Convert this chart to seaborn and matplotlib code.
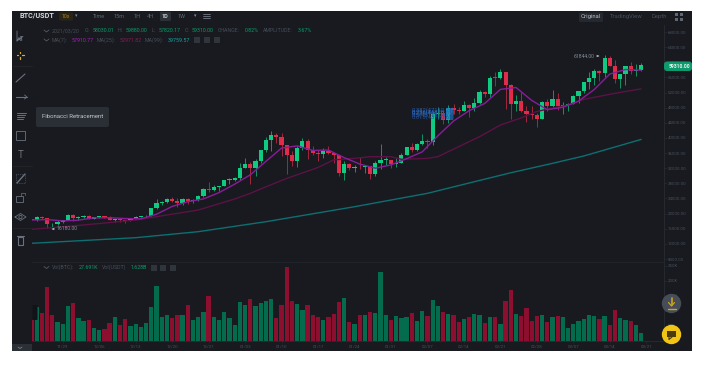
import numpy as np
import pandas as pd
import matplotlib
matplotlib.use('Agg')
import matplotlib.pyplot as plt
from matplotlib.patches import Circle, FancyBboxPatch, Rectangle
import seaborn as sns

sns.set_style("dark")
plt.rcParams['font.family'] = ['Roboto', 'DejaVu Sans']

# --- DATA (daily candles 2020/11/23 .. 2021/03/20) ---
closes = [18414, 19160, 18720, 17150, 17150, 17720, 18190, 19625, 18800, 19220,
          19445, 18700, 19150, 19360, 19170, 18320, 18550, 18250, 18030, 18800,
          19170, 19270, 19440, 21350, 22800, 23100, 23820, 23450, 22730, 23820,
          23250, 23720, 24690, 26490, 26280, 27040, 27360, 28890, 28990, 29410,
          32180, 33000, 31980, 33950, 36770, 39430, 40670, 40240, 38240, 35540,
          33910, 37300, 39140, 36770, 36010, 35820, 36630, 35890, 35470, 30830,
          33000, 32080, 32260, 32250, 32480, 30350, 33400, 34260, 34260, 33090,
          33500, 35500, 37660, 36930, 38290, 39260, 38870, 46450, 46490, 44830,
          47970, 47400, 47190, 48580, 47910, 49130, 52120, 51550, 55900, 55840,
          57410, 54090, 48890, 49670, 47050, 46280, 46110, 45130, 49590, 48430,
          50350, 48370, 48750, 48880, 50970, 52380, 54880, 55850, 57770, 57220,
          61180, 59000, 55640, 56900, 58910, 57660, 58030, 59310]
opens = [18420] + closes[:-1]
highs = [18760, 19420, 19480, 18900, 17460, 18180, 18350, 19860, 19920, 19300,
         19570, 19500, 19180, 19420, 19420, 19290, 18640, 18560, 18290, 18950,
         19410, 19350, 19570, 21560, 23800, 23290, 24170, 24300, 24100, 24000,
         24100, 23800, 24790, 26870, 28420, 27500, 27400, 28990, 29300, 29600,
         33300, 34780, 33670, 34410, 36930, 40360, 41950, 41380, 41350, 38260,
         36630, 37850, 40100, 39750, 37950, 36850, 37300, 37850, 36400, 35550,
         33830, 33450, 32950, 34880, 32800, 32550, 33780, 38530, 34930, 34300,
         34700, 35980, 37660, 38620, 38700, 40950, 39700, 46700, 48200, 47300,
         48630, 48980, 48150, 49700, 49000, 50650, 52620, 52530, 56370, 57500,
         58350, 57530, 54180, 51370, 52040, 48370, 48390, 46630, 49800, 50200,
         52640, 51770, 49450, 49200, 51450, 52400, 54900, 57390, 58150, 58050,
         61844, 61680, 60600, 56940, 58980, 60050, 59450, 59880]
lows = [17700, 18020, 18500, 16200, 16440, 16880, 17520, 18180, 18100, 18330,
        18860, 18570, 18500, 18860, 18900, 18200, 17650, 17910, 17570, 18020,
        18710, 19000, 19050, 19290, 21220, 22350, 22750, 23060, 21810, 22350,
        22600, 22700, 23430, 24500, 25800, 26100, 25880, 27320, 27850, 28620,
        28950, 32000, 27730, 29900, 33290, 36300, 36500, 38720, 35110, 30420,
        32530, 32380, 36700, 34400, 35360, 33850, 34800, 35750, 33400, 29950,
        28800, 31400, 30900, 31900, 30830, 29240, 29820, 31910, 32820, 32170,
        32300, 33420, 35360, 36160, 36630, 38220, 37350, 38050, 45020, 43700,
        43980, 46200, 46200, 47050, 45570, 47000, 48950, 50900, 50710, 53860,
        55480, 47620, 44900, 47000, 46900, 44100, 45000, 43000, 45000, 47050,
        48100, 47500, 46300, 47070, 48880, 49270, 51800, 53030, 53980, 55000,
        56070, 59000, 54600, 53270, 54120, 57000, 56300, 57820]

ma7_days = [0, 3, 6, 9, 12, 15, 18, 21, 24, 27, 30, 33, 36, 39, 42, 45, 48, 51, 54, 57,
            60, 63, 66, 69, 72, 75, 78, 81, 84, 87, 90, 93, 96, 99, 102, 105, 108, 111, 114, 117]
ma7_vals = [18300, 18416, 18073, 18265, 18876, 18909, 18690, 18627, 19833, 21890,
            23139, 23879, 25547, 27780, 30259, 33817, 37326, 37904, 36701, 36794,
            34807, 33111, 32000, 32870, 34524, 36319, 40564, 44467, 47196, 49126,
            52838, 53336, 49929, 47466, 48104, 49733, 52783, 56897, 58089, 57910]
ma25_days = [0, 6, 12, 20, 32, 39, 42, 45, 49, 55, 58, 62, 65, 69, 71, 76, 78, 82, 86, 90,
             94, 97, 100, 103, 106, 112, 117]
ma25_vals = [15850, 16500, 17250, 18300, 20950, 23860, 25360, 27100, 29300, 32200,
             34200, 34600, 35050, 35050, 34350, 34600, 35050, 37700, 40330, 43420,
             45300, 47000, 47900, 48700, 50200, 51800, 52970]
ma99_days = [0, 20, 32, 45, 62, 76, 85, 92, 100, 106, 117]
ma99_vals = [12150, 13630, 15220, 17860, 21820, 25360, 28430, 30800, 33290, 35230, 39600]

volumes = [70, 114, 92, 179, 86, 64, 56, 116, 127, 76, 67, 71, 42, 37, 41, 61, 80, 53, 72, 50,
           57, 47, 61, 114, 183, 80, 86, 77, 88, 87, 119, 69, 80, 97, 149, 80, 70, 96, 76, 54,
           130, 121, 141, 116, 127, 132, 140, 77, 119, 247, 134, 124, 102, 119, 87, 80, 71, 80, 89, 131,
           142, 64, 58, 88, 86, 96, 92, 231, 86, 69, 82, 78, 80, 92, 67, 99, 84, 138, 116, 97,
           89, 86, 63, 73, 80, 89, 86, 60, 80, 81, 58, 133, 169, 91, 83, 109, 67, 83, 86, 64,
           81, 83, 79, 43, 56, 67, 72, 86, 82, 73, 83, 53, 102, 78, 71, 67, 53, 28]
vol_dirs = ("rgrrrgggrg" "grggrrgrrg" "gggggggrrg" "rgggrggggg" "ggrggggrrr"
            "rggrrrgrrr" "grgrgrgggr" "gggrggrggr" "grrgrggrgr" "grrgrrrrgr"
            "grgggggggr" "grrggrgg")

week_days = [6, 13, 20, 27, 34, 41, 48, 55, 62, 69, 76, 83, 90, 97, 104, 111, 118]
week_labels = ['11/29', '12/06', '12/13', '12/20', '12/27', '01/03', '01/10', '01/17', '01/24',
               '01/31', '02/07', '02/14', '02/21', '02/28', '03/07', '03/14', '03/21']
price_ticks = [8000 + 4000 * k for k in range(16)]
vol_ticks = [50, 100, 150, 200, 250]
vol_tick_labels = ['50K', '100K', '150K', '200K', '250K']

GREEN, RED = '#0ecb81', '#df2c4b'
VOL_GREEN, VOL_RED = '#046b4d', '#8c0f30'
BG, GRID, MUTED = '#181a20', '#2b2f36', '#474d57'
W, H = 705, 371


def px_box(x0, y0, x1, y1):
    return [x0 / W, 1 - y1 / H, (x1 - x0) / W, (y1 - y0) / H]


fig = plt.figure(figsize=(W / 100, H / 100), dpi=100, facecolor='white')

back = fig.add_axes([0, 0, 1, 1], zorder=0)
back.set_xlim(0, W)
back.set_ylim(H, 0)
back.axis('off')
back.add_patch(Rectangle((12, 11), 680, 340, color=BG, lw=0))

# --- PRICE PANEL ---
ax = fig.add_axes(px_box(32, 25, 664, 262), zorder=1, facecolor='none')
days = np.arange(len(closes))
up = np.array(closes) >= np.array(opens)
colors = [GREEN if u else RED for u in up]
ax.vlines(days, lows, highs, colors=colors, lw=0.6, alpha=0.8)
ax.bar(days, np.maximum(np.abs(np.array(closes) - np.array(opens)), 150),
       bottom=np.minimum(opens, closes), width=0.8, color=colors, lw=0)

sns.lineplot(x=ma99_days, y=ma99_vals, color='#0d6f70', lw=1, ax=ax)
sns.lineplot(x=ma25_days, y=ma25_vals, color='#5c1245', lw=1, ax=ax)
sns.lineplot(x=ma7_days, y=ma7_vals, color='#8a1c9c', lw=1, ax=ax)

ax.set_xlim(0.1, 121.4)
ax.set_ylim(7207, 69855)
ax.yaxis.tick_right()
ax.set_yticks(price_ticks)
ax.set_yticklabels([f'{p}.00' for p in price_ticks], fontsize=3.2, color=MUTED)
ax.tick_params(axis='y', length=2, width=0.4, color=GRID, pad=1, right=True)
ax.set_xticks([])
ax.grid(False)
for name, sp in ax.spines.items():
    sp.set_visible(name == 'right')
    sp.set_color(GRID)
    sp.set_linewidth(0.5)

# --- VOLUME PANEL ---
vol_ax = fig.add_axes(px_box(32, 262, 664, 341), zorder=1, facecolor='none')
vol_df = pd.DataFrame({'day': days, 'vol': volumes, 'dir': list(vol_dirs)})
sns.barplot(data=vol_df, x='day', y='vol', hue='dir', palette={'g': VOL_GREEN, 'r': VOL_RED},
            native_scale=True, dodge=False, width=0.82, legend=False, linewidth=0,
            saturation=1, ax=vol_ax)
vol_ax.set_xlim(0.1, 121.4)
vol_ax.set_ylim(0, 263)
vol_ax.set_xlabel('')
vol_ax.set_ylabel('')
vol_ax.yaxis.tick_right()
vol_ax.set_yticks(vol_ticks)
vol_ax.set_yticklabels(vol_tick_labels, fontsize=3.2, color=MUTED)
vol_ax.set_xticks(week_days)
vol_ax.set_xticklabels(week_labels, fontsize=3.2, color=MUTED)
vol_ax.tick_params(axis='y', length=2, width=0.4, color=GRID, pad=1, right=True)
vol_ax.tick_params(axis='x', length=1.5, width=0.4, color=GRID, pad=1.5, bottom=True)
vol_ax.grid(False)
for name, sp in vol_ax.spines.items():
    sp.set_visible(name in ('right', 'top', 'bottom'))
    sp.set_color('#23262c' if name == 'top' else GRID)
    sp.set_linewidth(0.5)

# --- CHROME / OVERLAYS ---
ui = fig.add_axes([0, 0, 1, 1], zorder=3, facecolor='none')
ui.set_xlim(0, W)
ui.set_ylim(H, 0)
ui.axis('off')


def label(x, y, s, color=MUTED, size=3.4, **kw):
    ui.text(x, y, s, color=color, fontsize=size, va='center', **kw)


def box(x, y, w, h, color, r=1.0, **kw):
    ui.add_patch(FancyBboxPatch((x + r, y + r), w - 2 * r, h - 2 * r,
                                boxstyle=f'round,pad={r}', fc=color, ec='none', **kw))


# top bar
label(19, 16, 'BTC/USDT', color='#d5d8dd', size=5.2, fontweight='bold')
box(59, 12.5, 14, 8, '#2a2416')
label(62, 16.3, '10x', color='#a8811c', size=3.8)
label(75, 16, '▾', size=3.5, color='#848e9c', family=['DejaVu Sans'])
for x, s in [(93, 'Time'), (113, '15m'), (133, '1H'), (147, '4H'), (177, '1W')]:
    label(x, 16, s, size=4, color='#5e6673')
box(160, 12, 11, 9, GRID)
label(162, 16, '1D', size=4, color='#c4c8ce', fontweight='bold')
label(194, 16, '▾', size=3.5, color='#848e9c', family=['DejaVu Sans'])
for yy in (14, 16, 18):
    ui.plot([203, 210], [yy, yy], color='#848e9c', lw=0.5)
box(579, 12.5, 24, 9.5, '#25282f')
label(581, 16.5, 'Original', size=4.2, color='#b7bdc6')
label(610, 16.5, 'TradingView', size=4.2, color='#474d57')
label(651, 16.5, 'Depth', size=4.2, color='#474d57')
for xx, yy in [(675, 13), (680, 13), (675, 18), (680, 18)]:
    ui.add_patch(Rectangle((xx, yy), 2.7, 2.7, color='#5e6673', lw=0))

# OHLC header
G_TXT = '#0b9a68'
for x, s, c in [(52, '2021/03/20', MUTED), (85, 'O:', MUTED), (93, '58030.01', G_TXT),
                (118, 'H:', MUTED), (126, '59880.00', G_TXT), (152, 'L:', MUTED),
                (159, '57820.17', G_TXT), (185, 'C:', MUTED), (192, '59310.00', G_TXT),
                (218, 'CHANGE:', MUTED), (245, '0.82%', G_TXT), (263, 'AMPLITUDE:', MUTED),
                (298, '3.67%', G_TXT)]:
    label(x, 31, s, color=c, size=3.8)
for x, s, c in [(52, 'MA(7):', MUTED), (72, '57910.77', '#a81fb8'), (97, 'MA(25):', MUTED),
                (120, '52971.82', '#8c1a55'), (145, 'MA(99):', MUTED), (168, '39759.57', '#14a7a0')]:
    label(x, 40, s, color=c, size=3.8)
for x, s, c in [(52, 'Vol(BTC):', MUTED), (79, '27.691K', G_TXT), (102, 'Vol(USDT)', MUTED),
                (131, '1.628B', G_TXT)]:
    label(x, 267.5, s, color=c, size=3.8)
for cx, cy in [(197, 40), (207, 40), (217, 40), (154, 267.5), (163, 267.5), (173, 267.5)]:
    ui.add_patch(Rectangle((cx - 3, cy - 3), 6, 6, color='#30343b', lw=0))
for yy in (31, 40, 267.5):
    ui.plot([44, 46.5, 49], [yy - 1, yy + 1, yy - 1], color='#5e6673', lw=0.5)

# high / low markers and last price tag
label(574, 56, '61844.00', size=3.6, color='#848e9c')
ui.annotate('', xy=(602, 56), xytext=(596, 56), arrowprops=dict(arrowstyle='-|>', color='#b7bdc6', lw=0.4, mutation_scale=3))
label(57, 229, '16180.00', size=3.6, color='#848e9c')
ui.annotate('', xy=(49, 229), xytext=(55, 229), arrowprops=dict(arrowstyle='-|>', color='#b7bdc6', lw=0.4, mutation_scale=3))
box(664, 61.5, 28, 9.5, '#0d9a6c', r=3)
label(669, 66.2, '59310.00', size=3.6, color='#e8f5ef', fontweight='bold')

# fibonacci labels piled on each other, same as in the screenshot
for y0, s, c in [(110, '0.382(47110.24)', '#245aa8'), (112, '0.236(44826.50)', '#2b6bc9'),
                 (113.5, '0.236(44610.57)', '#2a66c0'), (115, '0.5(45112.08)', '#245aa8'),
                 (117, '0.618(43120.65)', '#1f4f96')]:
    label(412, y0, s, color=c, size=4.2)
ui.add_patch(Rectangle((446, 108), 7, 12, color='#2080d0', alpha=0.6, lw=0))

# tooltip
box(36, 107, 73, 20, '#2a2e35', r=2)
label(42, 116.5, 'Fibonacci Retracement', size=4.3, color='#c4c8ce')

# left toolbar icons
ICON = '#6a717c'
ui.plot([17, 17, 23, 20.5, 22, 20.5, 19, 17], [31, 41, 36.5, 36.5, 40, 40.5, 37.5, 41], color=ICON, lw=0.6)
for dx, dy in [(-3.5, 0), (3.5, 0), (0, -3.5), (0, 3.5)]:
    ui.plot([20 + dx * 0.5, 20 + dx], [55 + dy * 0.5, 55 + dy], color='#e0b020', lw=0.9)
ui.plot([16, 25], [82, 74], color=ICON, lw=0.8)
ui.plot([16, 27], [97, 97], color=ICON, lw=0.8)
ui.plot([24.5, 27, 24.5], [95, 97, 99], color=ICON, lw=0.6)
for yy, x1 in [(113, 26), (115, 25), (117, 24), (119, 23)]:
    ui.plot([17, x1], [yy, yy], color=ICON, lw=0.7)
ui.add_patch(Rectangle((16, 131), 9, 9, fc='none', ec=ICON, lw=0.6))
ui.text(20.5, 155, 'T', color=ICON, fontsize=7, ha='center', va='center')
ui.add_patch(Rectangle((16, 174), 9, 9, fc='none', ec=ICON, lw=0.5, ls=':'))
ui.plot([17, 25], [183, 174], color=ICON, lw=1)
ui.add_patch(Rectangle((16, 196), 7, 6, fc='none', ec=ICON, lw=0.6))
ui.plot([21, 21, 25, 25], [196, 193, 193, 195], color=ICON, lw=0.5)
ui.add_patch(Circle((20.5, 217), 1.6, fc='none', ec=ICON, lw=0.6))
ui.plot([15, 20.5, 26, 20.5, 15], [217, 213.5, 217, 220.5, 217], color=ICON, lw=0.6)
ui.add_patch(Rectangle((18, 237), 5, 8, fc='none', ec=ICON, lw=0.8))
ui.plot([17, 24], [236, 236], color=ICON, lw=0.8)
for yy in (66, 166, 228):
    ui.plot([13, 32], [yy, yy], color='#25282e', lw=0.5)

# bottom-left collapse tab and side handle
ui.add_patch(Rectangle((12, 344), 20, 7, color=GRID, lw=0))
ui.plot([18, 20, 22], [347, 348.5, 347], color='#848e9c', lw=0.5)
box(32.5, 305, 5, 15, '#111318', r=1)

# round buttons
ui.add_patch(Circle((671.5, 303.5), 9.7, color='#474d57', lw=0))
ui.plot([671.5, 671.5], [298, 305], color='#c9a227', lw=1.2)
ui.plot([668.5, 671.5, 674.5], [302.5, 306, 302.5], color='#c9a227', lw=0.9)
ui.plot([667.5, 675.5], [308.5, 308.5], color='#c9a227', lw=1)
ui.add_patch(Circle((671.5, 334.5), 9.7, color='#f0c516', lw=0))
ui.add_patch(Rectangle((667, 330.5), 9, 6.5, color='#4a3b0a', lw=0))
ui.plot([669, 669, 672], [337, 339.5, 337], color='#4a3b0a', lw=0.8)

fig.savefig('out.png', dpi=100)
